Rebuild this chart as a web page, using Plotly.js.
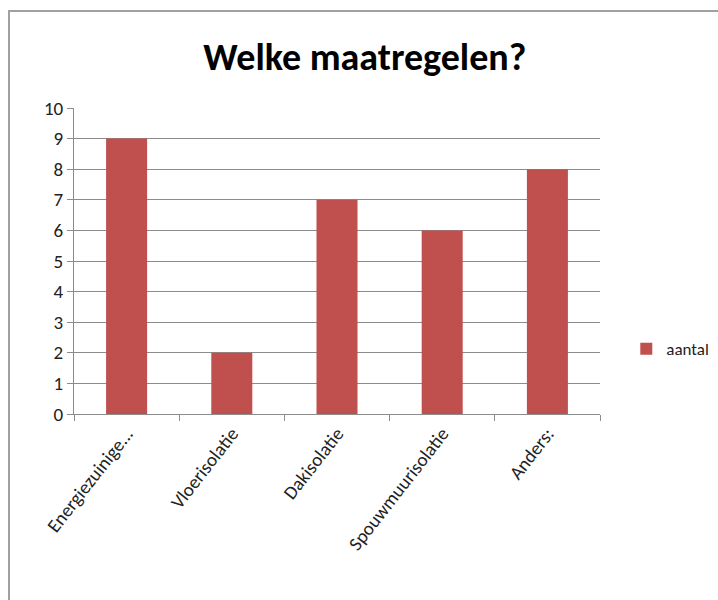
<!DOCTYPE html>
<html>
<head>
<meta charset="utf-8">
<script src="https://cdn.plot.ly/plotly-3.0.1.min.js"></script>
<style>
  html, body { margin: 0; padding: 0; background: #fff; }
  #wrap { position: relative; width: 718px; height: 600px; }
  #frame { position: absolute; left: 8px; top: 10px; width: 720px; height: 600px;
           border-left: 2px solid #a0a0a0; border-top: 2px solid #a0a0a0; box-sizing: border-box; pointer-events: none; }
  #chart { position: absolute; left: 0; top: 0; width: 718px; height: 600px; }
</style>
</head>
<body>
<div id="wrap">
  <div id="chart"></div>
  <div id="frame"></div>
</div>
<script>
const categories = ["Energiezuinige...", "Vloerisolatie", "Dakisolatie", "Spouwmuurisolatie", "Anders:"];
const aantal = [9, 2, 7, 6, 8];
const seriesName = "aantal";
const chartTitle = "Welke maatregelen?";
const yTicks = [0, 1, 2, 3, 4, 5, 6, 7, 8, 9, 10];

const font = "Carlito, 'Open Sans', 'Noto Sans', sans-serif";

Plotly.newPlot("chart", [{
  type: "bar",
  x: categories,
  y: aantal,
  name: seriesName,
  marker: { color: "#C0504D" },
  showlegend: true
}], {
  width: 718, height: 600,
  margin: { l: 74, r: 118, t: 108, b: 186, autoexpand: false },
  paper_bgcolor: "#ffffff",
  plot_bgcolor: "#ffffff",
  bargap: 0.61,
  title: {
    text: "<b>" + chartTitle + "</b>",
    font: { family: font, size: 38, color: "#000" },
    x: 0.508, xanchor: "center", y: 0.905, yanchor: "middle"
  },
  font: { family: font, color: "#222" },
  xaxis: {
    type: "category",
    tickangle: -52,
    tickfont: { size: 19, color: "#222" },
    showline: true, linecolor: "#8c8c8c", linewidth: 1,
    ticks: "outside", tickson: "boundaries", ticklen: 6, tickcolor: "#8c8c8c",
    showgrid: false, zeroline: false
  },
  yaxis: {
    range: [0, 10],
    tickvals: yTicks,
    tickfont: { size: 19, color: "#222" },
    showline: true, linecolor: "#8c8c8c", linewidth: 1,
    ticks: "outside", ticklen: 6, tickcolor: "#8c8c8c",
    showgrid: true, gridcolor: "#8c8c8c", gridwidth: 1,
    zeroline: false
  },
  legend: {
    x: 1.05, xanchor: "left", y: 0.212, yanchor: "middle",
    font: { size: 17, color: "#222" },
    itemwidth: 30,
    bgcolor: "rgba(0,0,0,0)"
  }
}, { displayModeBar: false, staticPlot: true });
</script>
</body>
</html>
